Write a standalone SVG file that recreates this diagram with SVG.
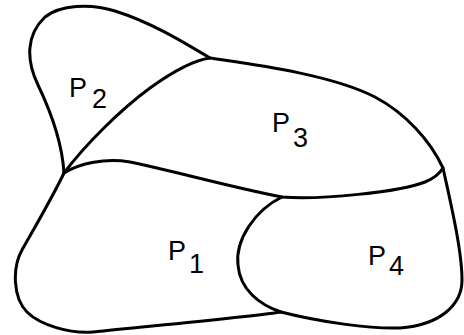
<svg xmlns="http://www.w3.org/2000/svg" width="464" height="335" viewBox="0 0 464 335">
<style>
.b{fill:none;stroke:#000;stroke-width:3;stroke-linecap:round;stroke-linejoin:round}
.l{font-family:"Liberation Sans",Arial,sans-serif;font-size:27px;fill:#000}
</style>
<rect width="464" height="335" fill="#fff"/>
<g id="outline">
<path class="b" d="M64,173 C62,140 50,110 38,85 C26,60 26,35 45,17 C60,5 90,3 115,11 C150,22 180,40 210,58 C250,64 330,74 375,97 C405,113 430,140 443,168 C450,200 462,250 462,280 C462,305 440,325 400,328 C370,329 320,322 281,312 C240,318 150,326 93,332 C70,334 40,325 27,312 C13,298 12,268 22,250 C35,227 52,198 64,173 Z"/>
</g>
<g id="connectors">
<path class="b" d="M64,173 C85,145 120,110 150,88 C175,70 195,60 210,58"/>
<path class="b" d="M64,173 C80,163 105,158 130,162 C170,170 230,187 282,197 C320,200 400,192 425,182 C435,178 440,173 443,168"/>
<path class="b" d="M282,197 C255,210 235,240 238,265 C240,290 260,305 281,312"/>
</g>
<g id="P2"><text class="l"><tspan x="69" y="97">P</tspan><tspan x="92" y="108">2</tspan></text></g>
<g id="P3"><text class="l"><tspan x="272" y="132">P</tspan><tspan x="293" y="147">3</tspan></text></g>
<g id="P1"><text class="l"><tspan x="168" y="260">P</tspan><tspan x="189" y="273">1</tspan></text></g>
<g id="P4"><text class="l"><tspan x="368" y="265">P</tspan><tspan x="389" y="275">4</tspan></text></g>
</svg>
